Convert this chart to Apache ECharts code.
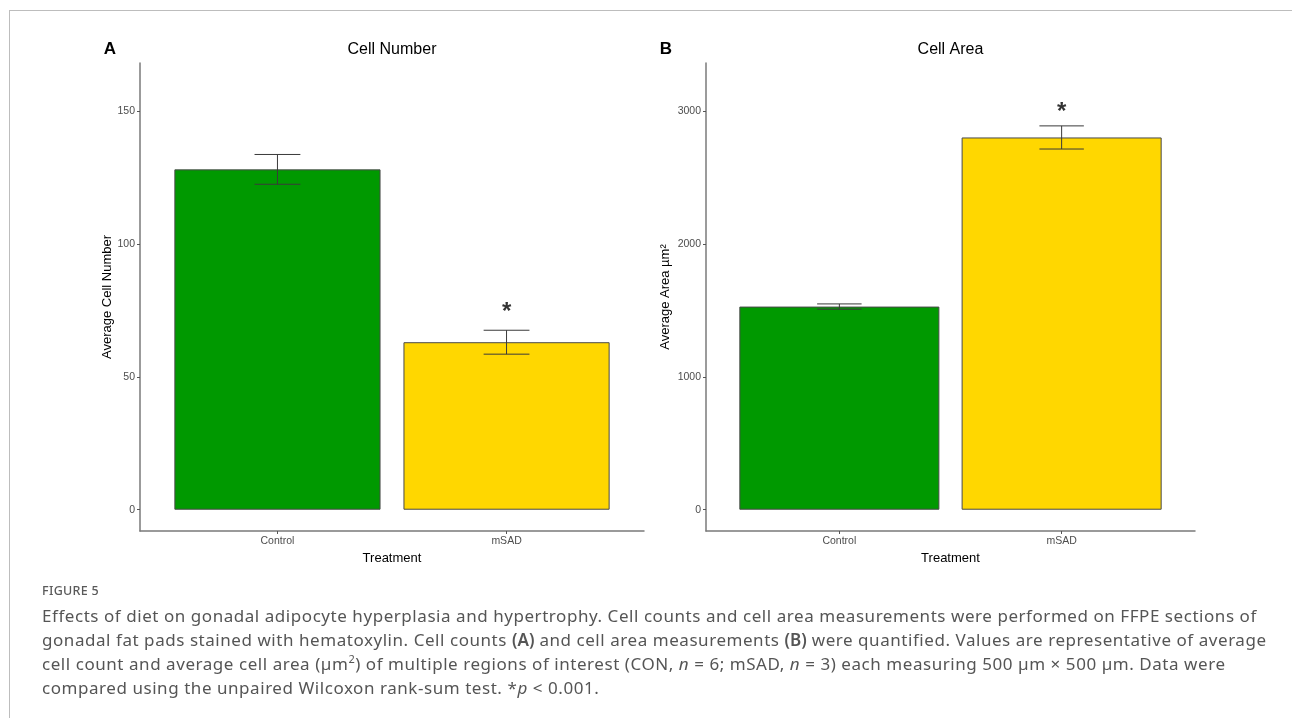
<!DOCTYPE html>
<html>
<head>
<meta charset="utf-8">
<script src="https://cdn.jsdelivr.net/npm/echarts@6/dist/echarts.min.js"></script>
<style>
  html, body { margin: 0; padding: 0; background: #fff; }
  #wrap { position: relative; width: 1292px; height: 718px; overflow: hidden; }
  #chart { position: absolute; left: 0; top: 0; width: 1292px; height: 718px; }
  #frameTop { position: absolute; left: 9px; top: 10px; width: 1283px; height: 1px; background: #bdbdbd; }
  #frameLeft { position: absolute; left: 9px; top: 10px; width: 1px; height: 708px; background: #bdbdbd; }
  #figlabel { position: absolute; left: 42px; top: 582px; font-family: "Noto Sans", sans-serif; font-size: 12.5px; font-weight: 500; color: #5a5a5a; letter-spacing: 0.3px; }
  #caption { position: absolute; left: 42px; top: 604px; width: 1240px; font-family: "Noto Sans", sans-serif; font-size: 17px; letter-spacing: 0.55px; line-height: 24px; color: #555; white-space: nowrap; }
  #caption b { color: #555; font-weight: 600; letter-spacing: 0; }
</style>
</head>
<body>
<div id="wrap">
  <div id="chart"></div>
  <div id="frameTop"></div>
  <div id="frameLeft"></div>
  <div id="figlabel">FIGURE 5</div>
  <div id="caption">Effects of diet on gonadal adipocyte hyperplasia and hypertrophy. Cell counts and cell area measurements were performed on FFPE sections of<br>gonadal fat pads stained with hematoxylin. Cell counts <b>(A)</b> and cell area measurements <b>(B)</b> were quantified. Values are representative of average<br>cell count and average cell area (µm<sup style="font-size:11px;line-height:0">2</sup>) of multiple regions of interest (CON, <i>n</i> = 6; mSAD, <i>n</i> = 3) each measuring 500 µm × 500 µm. Data were<br>compared using the unpaired Wilcoxon rank-sum test. *<i>p</i> &lt; 0.001.</div>
</div>
<script>
// ---- data ----
const categories = ['Control', 'mSAD'];
const cellNumberMean = [128, 63];
const cellNumberSE = [5.6, 4.5];
const cellNumberStar = [null, 76];
const cellAreaMean = [1528, 2800];
const cellAreaSE = [20, 87];
const cellAreaStar = [null, 3030];
const barColors = ['#009900', '#FFD700'];
const cellNumberTicks = [0, 50, 100, 150];
const cellAreaTicks = [0, 1000, 2000, 3000];
const cellNumberLimits = [0, 160];
const cellAreaLimits = [0, 3200];

// ---- layout ----
const grids = [
  { left: 140, width: 504, top: 63, bottom: 187 },
  { left: 706, width: 489, top: 63, bottom: 187 }
];
const font = 'Liberation Sans, Arial, sans-serif';

function expandLimits(l) { const d = (l[1] - l[0]) * 0.05; return [l[0] - d, l[1] + d]; }

function xAxisDef(gi) {
  return {
    type: 'value', gridIndex: gi, min: 0.4, max: 2.6,
    name: 'Treatment', nameLocation: 'middle', nameGap: 15,
    nameTextStyle: { fontFamily: font, fontSize: 13, color: '#000' },
    axisLine: { show: true, onZero: false, lineStyle: { color: '#7a7a7a', width: 1.5 } },
    axisTick: { show: true, length: 3, customValues: [1, 2], lineStyle: { color: '#555', width: 1 } },
    axisLabel: { customValues: [1, 2], margin: 5, fontFamily: font, fontSize: 10.5, color: '#4d4d4d',
      formatter: v => categories[Math.round(v) - 1] },
    splitLine: { show: false }
  };
}
function yAxisDef(gi, name, limits, ticks, gap) {
  const e = expandLimits(limits);
  return {
    type: 'value', gridIndex: gi, min: e[0], max: e[1],
    name: name, nameLocation: 'middle', nameGap: gap,
    nameTextStyle: { fontFamily: font, fontSize: 13, color: '#000' },
    axisLine: { show: true, onZero: false, lineStyle: { color: '#7a7a7a', width: 1.5 } },
    axisTick: { show: true, length: 3, customValues: ticks, lineStyle: { color: '#555', width: 1 } },
    axisLabel: { customValues: ticks, margin: 5, fontFamily: font, fontSize: 10.5, color: '#4d4d4d',
      formatter: v => String(Math.round(v)) },
    splitLine: { show: false }
  };
}

function barSeries(gi, means, barWidth) {
  return {
    type: 'bar', xAxisIndex: gi, yAxisIndex: gi, barWidth: barWidth,
    data: means.map((m, i) => ({ value: [i + 1, m], itemStyle: { color: barColors[i] } })),
    itemStyle: { borderColor: '#4a4a4a', borderWidth: 1 },
    z: 2
  };
}
function errSeries(gi, means, ses) {
  return {
    type: 'custom', xAxisIndex: gi, yAxisIndex: gi, z: 5,
    data: means.map((m, i) => [i + 1, m - ses[i], m + ses[i]]),
    encode: { x: 0, y: [1, 2] },
    renderItem: function (params, api) {
      const x = api.value(0);
      const lo = api.coord([x, api.value(1)]);
      const hi = api.coord([x, api.value(2)]);
      const hw = api.size([0.1, 0])[0];
      const st = { stroke: '#3a3a3a', lineWidth: 1 };
      return { type: 'group', children: [
        { type: 'line', shape: { x1: lo[0], y1: lo[1], x2: hi[0], y2: hi[1] }, style: st },
        { type: 'line', shape: { x1: hi[0] - hw, y1: hi[1], x2: hi[0] + hw, y2: hi[1] }, style: st },
        { type: 'line', shape: { x1: lo[0] - hw, y1: lo[1], x2: lo[0] + hw, y2: lo[1] }, style: st }
      ] };
    }
  };
}
function starSeries(gi, stars) {
  return {
    type: 'scatter', xAxisIndex: gi, yAxisIndex: gi, symbolSize: 1, z: 6,
    itemStyle: { color: 'rgba(0,0,0,0)' },
    data: stars.map((s, i) => s == null ? null : [i + 1, s]).filter(d => d),
    label: { show: true, position: 'inside', offset: [0, 5], formatter: '*',
      fontFamily: font, fontSize: 24, fontWeight: 'bold', color: '#000' }
  };
}

const chart = echarts.init(document.getElementById('chart'), null, { renderer: 'canvas' });
chart.setOption({
  animation: false,
  backgroundColor: '#fff',
  grid: grids,
  xAxis: [xAxisDef(0), xAxisDef(1)],
  yAxis: [
    yAxisDef(0, 'Average Cell Number', cellNumberLimits, cellNumberTicks, 19),
    yAxisDef(1, 'Average Area µm²', cellAreaLimits, cellAreaTicks, 34)
  ],
  graphic: [
    { type: 'text', x: 110, y: 49, style: { text: 'A', font: 'bold 17px ' + font, fill: '#000', align: 'center', verticalAlign: 'middle' } },
    { type: 'text', x: 666, y: 49, style: { text: 'B', font: 'bold 17px ' + font, fill: '#000', align: 'center', verticalAlign: 'middle' } },
    { type: 'text', x: grids[0].left + grids[0].width / 2, y: 50, style: { text: 'Cell Number', font: '16px ' + font, fill: '#000', align: 'center', verticalAlign: 'middle' } },
    { type: 'text', x: grids[1].left + grids[1].width / 2, y: 50, style: { text: 'Cell Area', font: '16px ' + font, fill: '#000', align: 'center', verticalAlign: 'middle' } }
  ],
  series: [
    barSeries(0, cellNumberMean, grids[0].width / 2.2 * 0.9),
    errSeries(0, cellNumberMean, cellNumberSE),
    starSeries(0, cellNumberStar),
    barSeries(1, cellAreaMean, grids[1].width / 2.2 * 0.9),
    errSeries(1, cellAreaMean, cellAreaSE),
    starSeries(1, cellAreaStar)
  ]
});
</script>
</body>
</html>
